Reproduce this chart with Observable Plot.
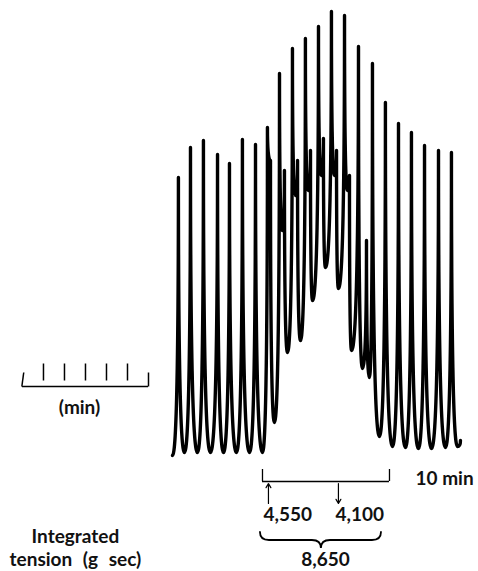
<!DOCTYPE html>
<html>
<head>
<meta charset="utf-8">
<script src="https://cdn.jsdelivr.net/npm/d3@7"></script>
<script src="https://cdn.jsdelivr.net/npm/@observablehq/plot@0.6"></script>
<style>
  html, body { margin: 0; padding: 0; background: #fff; }
  #chart svg { display: block; }
</style>
</head>
<body>
<div id="chart"></div>
<script>
// ---- Data (time in minutes, tension in g) ----
const traceTime = [
  -0.16, 0.31, 0.79, 1.26, 1.81, 2.28, 2.83, 3.39, 3.86, 4.33, 4.88, 5.35, 5.91, 6.38, 6.93,
  7.32, 7.56, 7.87, 8.27, 8.50, 8.66, 8.90, 9.29, 9.53, 9.69, 9.92, 10.31, 10.55, 10.71, 10.87,
  11.34, 11.57, 11.73, 11.89, 12.36, 12.60, 12.76, 12.91, 13.39, 13.62, 13.78, 13.94,
  14.49, 14.80, 15.12, 15.35, 15.59, 16.14, 16.61, 17.17, 17.64, 18.19, 18.66, 19.21,
  19.69, 20.24, 20.79, 21.34, 21.81, 22.28, 22.52
];
const traceTension = [
  -0.3, 27.5, 0, 30.5, 0, 31.2, 0, 29.8, 0, 28.9, 0, 31.3, 0, 30.8, 0,
  32.5, 29.2, 3.0, 37.9, 22.2, 28.2, 10.0, 40.4, 25.7, 29.2, 11.2, 41.4, 26.2, 30.2, 15.2,
  42.6, 27.7, 31.4, 18.5, 44.1, 27.7, 30.2, 16.4, 43.7, 26.2, 27.7, 10.2,
  40.6, 8.4, 21.2, 7.5, 38.9, 1.6, 35.0, 0.6, 32.9, 0.5, 32.0, 0.4,
  30.7, 0.4, 30.2, 0.5, 30.0, 0.6, 1.2
];
// 10-minute bracket and event arrows (min)
const bracketTimes = [6.93, 16.93];
const arrowTimes = [7.40, 12.91];      // up arrow, down arrow
const integratedLabels = ["4,550", "4,100"];
const integratedTotal = "8,650";
// left "(min)" scale bar: 6 divisions
const minBarTicks = [0, 1, 2, 3, 4, 5, 6];

// ---- Layout constants ----
const W = 478, H = 571;
const barStart = -11.97, barStep = 1.654;
const FONT = "Lato, 'Open Sans', sans-serif";

const trace = traceTime.map((t, i) => ({t, g: traceTension[i]}));
const ticks = minBarTicks.map((k, i) => {
  const end = i === 0 || i === minBarTicks.length - 1;
  const x = barStart + k * barStep;
  return {x1: i === 0 ? x - 0.05 : x, x2: i === 0 ? x + 0.1 : x, y1: end ? 6.6 : 7.2, y2: end ? 8.0 : 8.9};
});

// Pen-recorder style curve: rounded troughs, narrow spiky peaks.
function penCurve(context) {
  let pts = [];
  return {
    areaStart() {}, areaEnd() {},
    lineStart() { pts = []; },
    point(x, y) { pts.push([+x, +y]); },
    lineEnd() {
      if (!pts.length) return;
      context.moveTo(pts[0][0], pts[0][1]);
      for (let i = 1; i < pts.length; i++) {
        const [x0, y0] = pts[i - 1], [x1, y1] = pts[i];
        const dx = x1 - x0, h = Math.abs(y1 - y0);
        if (y0 > y1) { // rising: low -> high
          context.bezierCurveTo(x0 + dx * 0.7, y0, x1, y1 + h * 0.62, x1, y1);
        } else {       // falling: high -> low
          context.bezierCurveTo(x0, y0 + h * 0.62, x1 - dx * 0.7, y1, x1, y1);
        }
      }
    }
  };
}

function brace(index, scales) {
  const x = scales.x, y = scales.y;
  const x0 = x(6.77), x1 = x(16.30), xm = x(11.57);
  const yt = y(-8.0), yb = y(-8.8), yc = y(-9.6);
  const r = 9;
  const d = `M${x0},${yt} Q${x0},${yb} ${x0 + r},${yb} L${xm - r},${yb} Q${xm},${yb} ${xm},${yc} ` +
            `Q${xm},${yb} ${xm + r},${yb} L${x1 - r},${yb} Q${x1},${yb} ${x1},${yt}`;
  const p = document.createElementNS("http://www.w3.org/2000/svg", "path");
  p.setAttribute("d", d);
  p.setAttribute("fill", "none");
  p.setAttribute("stroke", "#000");
  p.setAttribute("stroke-width", "1.8");
  p.setAttribute("stroke-linecap", "round");
  return p;
}

const textOpts = {fontSize: 19, fontWeight: "bold", fill: "#111", fontFamily: FONT};

const chart = Plot.plot({
  width: W,
  height: H,
  margin: 0,
  style: {background: "#fff", fontFamily: FONT},
  x: {domain: [-13.70, 23.94], axis: null},
  y: {domain: [-11.9, 45.2], axis: null},
  marks: [
    // contraction trace
    Plot.line(trace, {x: "t", y: "g", curve: penCurve, stroke: "#000",
      strokeWidth: 3.4, strokeLinejoin: "round", strokeLinecap: "round"}),
    // left (min) scale bar
    Plot.ruleY([6.6], {x1: barStart, x2: barStart + 6 * barStep, stroke: "#000", strokeWidth: 1.3}),
    Plot.link(ticks, {x1: "x1", x2: "x2", y1: "y1", y2: "y2", stroke: "#000", strokeWidth: 1.5}),
    Plot.text(["(min)"], {x: -7.48, y: 4.5, text: d => d, ...textOpts}),
    // 10 min bracket
    Plot.ruleY([-2.9], {x1: bracketTimes[0], x2: bracketTimes[1], stroke: "#000", strokeWidth: 1.3}),
    Plot.ruleX(bracketTimes, {y1: -2.9, y2: -1.7, stroke: "#000", strokeWidth: 1.3}),
    Plot.text(["10 min"], {x: 18.98, y: -2.6, text: d => d, textAnchor: "start", ...textOpts}),
    // event arrows
    Plot.arrow([0], {x1: arrowTimes[0], x2: arrowTimes[0], y1: -5.1, y2: -3.1, stroke: "#000", strokeWidth: 1.2, headLength: 6}),
    Plot.arrow([0], {x1: arrowTimes[1], x2: arrowTimes[1], y1: -3.1, y2: -5.1, stroke: "#000", strokeWidth: 1.2, headLength: 6}),
    Plot.text(integratedLabels, {x: [7.01, 12.68], y: -6.2, text: d => d, textAnchor: "start", ...textOpts}),
    brace,
    Plot.text([integratedTotal], {x: 11.89, y: -10.7, text: d => d, ...textOpts}),
    Plot.text(["Integrated"], {x: -7.80, y: -8.4, text: d => d, ...textOpts}),
    Plot.text(["tension (g sec)"], {x: -7.80, y: -10.7, text: d => d, ...textOpts})
  ]
});
d3.select(chart).selectAll("text")
  .filter(function () { return this.textContent.includes("tension"); })
  .style("word-spacing", "6px");
document.getElementById("chart").append(chart);
</script>
</body>
</html>
